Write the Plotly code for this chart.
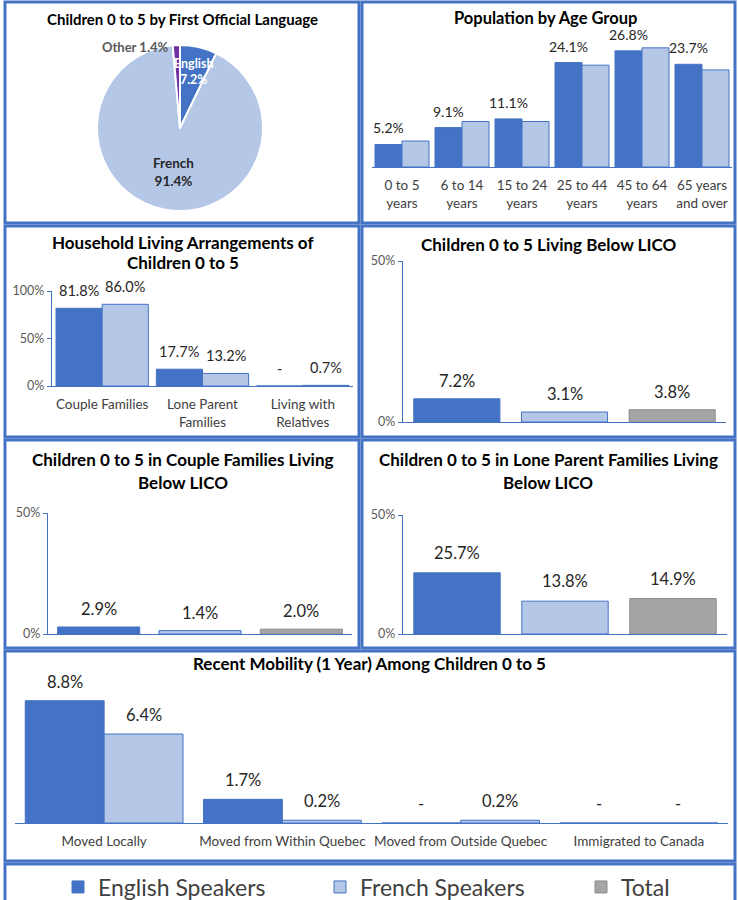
import plotly.graph_objects as go

W, H = 738, 900

# ---------------- data ----------------
pie_labels = ["English", "French", "Other"]
pie_values = [7.2, 91.4, 1.4]

age_groups = ["0 to 5<br>years", "6 to 14<br>years", "15 to 24<br>years",
              "25 to 44<br>years", "45 to 64<br>years", "65 years<br>and over"]
age_english = [5.2, 9.1, 11.1, 24.1, 26.8, 23.7]
age_french = [6.0, 10.5, 10.5, 23.5, 27.5, 22.4]

house_cats = ["Couple Families", "Lone Parent<br>Families", "Living with<br>Relatives"]
house_english = [81.8, 17.7, 0.0]
house_french = [86.0, 13.2, 0.7]

series_names = ["English Speakers", "French Speakers", "Total"]
lico_all = [7.2, 3.1, 3.8]
lico_couple = [2.9, 1.4, 2.0]
lico_lone = [25.7, 13.8, 14.9]

mob_cats = ["Moved Locally", "Moved from Within Quebec",
            "Moved from Outside Quebec", "Immigrated to Canada"]
mob_english = [8.8, 1.7, 0.0, 0.0]
mob_french = [6.4, 0.2, 0.2, 0.0]

# ---------------- style ----------------
BLUE = "#4472C4"
LIGHT = "#B4C7E7"
GRAY = "#A5A5A5"
PURPLE = "#7030A0"
FONT = "Lato"
TXT = "#262626"
TICK = "#404040"
YTICK = "#595959"
fills = [BLUE, LIGHT, GRAY]
edges = [BLUE, BLUE, "#8C8C8C"]


def fx(p):
    return p / W


def fy(p):
    return 1 - p / H


def lab(v):
    return "-" if v == 0 else f"{v:.1f}%"


fig = go.Figure()
annotations = []
shapes = []
layout = {}


def setup_axes(n, xpx, ypx, yrange, cats, xfont, yticks=None, standoff=6, showx=True):
    sx = "" if n == 1 else str(n)
    layout["xaxis" + sx] = dict(
        domain=[fx(xpx[0]), fx(xpx[1])], anchor="y" + sx, type="category",
        categoryorder="array", categoryarray=cats,
        range=[-0.5, len(cats) - 0.5], showline=True, linecolor=BLUE, linewidth=1.2,
        showgrid=False, zeroline=False, ticks="", showticklabels=showx,
        tickfont=dict(family=FONT, size=xfont, color=TICK), ticklabelstandoff=standoff,
        fixedrange=True,
    )
    ya = dict(
        domain=[fy(ypx[1]), fy(ypx[0])], anchor="x" + sx, range=yrange,
        showgrid=False, zeroline=False, fixedrange=True,
    )
    if yticks is None:
        ya.update(visible=False)
    else:
        ya.update(showline=True, linecolor=BLUE, linewidth=1.2, ticks="outside",
                  ticklen=4, tickcolor=BLUE, tickvals=yticks,
                  ticktext=[f"{t}%" for t in yticks],
                  tickfont=dict(family=FONT, size=12.5, color=YTICK))
    layout["yaxis" + sx] = ya
    return "x" + sx, "y" + sx


def grouped(n, cats, eng, fre, gap, fsize, yshift, show_eng=True, show_fre=True):
    xr, yr = "x" if n == 1 else f"x{n}", "y" if n == 1 else f"y{n}"
    w = (1 - gap) / 2
    for vals, off, i, show in ((eng, -w, 0, show_eng), (fre, 0.0, 1, show_fre)):
        fig.add_trace(go.Bar(x=cats, y=vals, xaxis=xr, yaxis=yr, width=w, offset=off,
                             marker=dict(color=fills[i], line=dict(color=edges[i], width=1)),
                             showlegend=False, hoverinfo="skip"))
        if show:
            for k, v in enumerate(vals):
                annotations.append(dict(x=k + off + w / 2, y=v, xref=xr, yref=yr, text=lab(v),
                                        showarrow=False, xanchor="center", yanchor="bottom",
                                        yshift=yshift,
                                        font=dict(family=FONT, size=fsize, color=TXT)))


def triple(n, vals, gap, fsize, yshift, legend=False):
    xr, yr = f"x{n}", f"y{n}"
    w = 1 - gap
    for i, (name, v) in enumerate(zip(series_names, vals)):
        lg = "legend" if i == 0 else f"legend{i + 1}"
        fig.add_trace(go.Bar(x=[name], y=[v], xaxis=xr, yaxis=yr, width=w, offset=-w / 2,
                             name=name, legend=lg, showlegend=legend,
                             marker=dict(color=fills[i], line=dict(color=edges[i], width=1)),
                             hoverinfo="skip"))
        annotations.append(dict(x=i, y=v, xref=xr, yref=yr, text=lab(v), showarrow=False,
                                xanchor="center", yanchor="bottom", yshift=yshift,
                                font=dict(family=FONT, size=fsize, color=TXT)))


def title(lines, xc, ys, size):
    for t, y in zip(lines, ys):
        annotations.append(dict(x=fx(xc), y=fy(y), xref="paper", yref="paper", text=t,
                                showarrow=False, xanchor="center", yanchor="middle",
                                font=dict(family=FONT, size=size, color="#000000",
                                          weight="bold")))


# ---- Panel 1: pie ----
fig.add_trace(go.Pie(labels=pie_labels, values=pie_values, sort=False, direction="clockwise",
                     rotation=0, textinfo="none", showlegend=False, hoverinfo="skip",
                     marker=dict(colors=[BLUE, LIGHT, PURPLE], line=dict(color="white", width=2)),
                     domain=dict(x=[fx(97), fx(263)], y=[fy(211), fy(45)])))
title(["Children 0 to 5 by First Official Language"], 182, [19], 15)
annotations.append(dict(x=fx(194), y=fy(71), xref="paper", yref="paper",
                        xanchor="center", yanchor="middle",
                        text=f"{pie_labels[0]}<br>{pie_values[0]}%", showarrow=False,
                        font=dict(family=FONT, size=12.5, color="white", weight="bold")))
annotations.append(dict(x=fx(173), y=fy(172), xref="paper", yref="paper",
                        xanchor="center", yanchor="middle",
                        text=f"{pie_labels[1]}<br>{pie_values[1]}%", showarrow=False,
                        font=dict(family=FONT, size=13.5, color=TXT, weight="bold")))
annotations.append(dict(x=fx(171), y=fy(47), xref="paper", yref="paper",
                        xanchor="right", yanchor="middle",
                        text=f"{pie_labels[2]} {pie_values[2]}%", showarrow=False,
                        font=dict(family=FONT, size=13, color="#595959", weight="bold")))

# ---- Panel 2: age groups ----
setup_axes(1, (372, 732), (37, 167), [0, 30], age_groups, 13.5, standoff=6)
grouped(1, age_groups, age_english, age_french, 0.1, 14, 6, show_fre=False)
title(["Population by Age Group"], 545, [18], 16.5)

# ---- Panel 3: household ----
setup_axes(2, (52, 353), (291, 386), [0, 100], house_cats, 13.5, yticks=[0, 50, 100], standoff=6)
grouped(2, house_cats, house_english, house_french, 0.08, 14.5, 7)
title(["Household Living Arrangements of", "Children 0 to 5"], 183, [242, 263], 17)

# ---- Panel 4: LICO ----
setup_axes(3, (403, 726), (261, 422), [0, 50], series_names, 12, yticks=[0, 50], showx=False)
triple(3, lico_all, 0.2, 16.5, 6, legend=True)
title(["Children 0 to 5 Living Below LICO"], 548, [245], 17)

# ---- Panel 5: couple LICO ----
setup_axes(4, (48, 352), (513, 634), [0, 50], series_names, 12, yticks=[0, 50], showx=False)
triple(4, lico_couple, 0.19, 16.5, 6)
title(["Children 0 to 5 in Couple Families Living", "Below LICO"], 183, [460, 482], 17)

# ---- Panel 6: lone parent LICO ----
setup_axes(5, (403, 727), (515, 634), [0, 50], series_names, 12, yticks=[0, 50], showx=False)
triple(5, lico_lone, 0.2, 16.5, 8)
title(["Children 0 to 5 in Lone Parent Families Living", "Below LICO"], 548, [460, 482], 17)

# ---- Panel 7: mobility ----
setup_axes(6, (15, 728), (684, 823), [0, 10], mob_cats, 13.5, standoff=6)
grouped(6, mob_cats, mob_english, mob_french, 0.115, 16.5, 7)
title(["Recent Mobility (1 Year) Among Children 0 to 5"], 370, [663], 17)

# ---- panel borders ----
rects = [(5, 2, 359, 223), (362, 2, 735, 223),
         (5, 226, 359, 437), (362, 226, 735, 437),
         (5, 440, 359, 648), (362, 440, 735, 648),
         (5, 651, 735, 861), (5, 864, 735, 920)]
for x0, y0, x1, y1 in rects:
    shapes.append(dict(type="rect", xref="paper", yref="paper", x0=fx(x0), x1=fx(x1),
                       y0=fy(y0), y1=fy(y1), line=dict(color=BLUE, width=3),
                       fillcolor="rgba(0,0,0,0)", layer="above"))

# ---- legends ----
leg_x = [58, 320, 581]
for i, lx in enumerate(leg_x):
    key = "legend" if i == 0 else f"legend{i + 1}"
    layout[key] = dict(x=fx(lx), y=fy(887), xanchor="left", yanchor="middle",
                       orientation="h", bgcolor="rgba(0,0,0,0)", borderwidth=0,
                       font=dict(family=FONT, size=23, color=TICK))

fig.update_layout(
    width=W, height=H, margin=dict(l=0, r=0, t=0, b=0, autoexpand=False),
    paper_bgcolor="white", plot_bgcolor="white",
    barmode="group", annotations=annotations, shapes=shapes, **layout,
)
fig.write_html(
    "out.html",
    config={"displayModeBar": False},
    post_script="document.body.style.margin='0';document.body.style.overflow='hidden';",
)
